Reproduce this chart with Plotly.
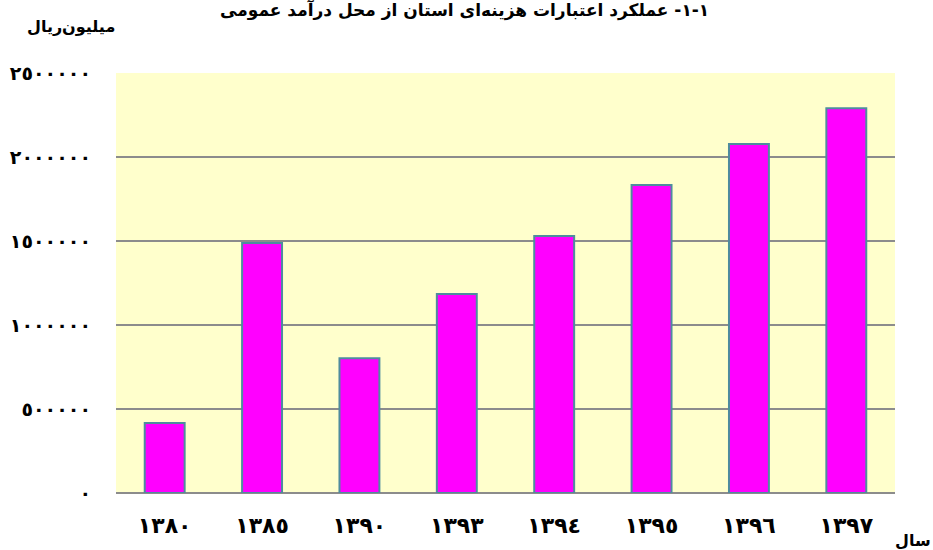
import plotly.graph_objects as go

years = ["١٣٨٠", "١٣٨٥", "١٣٩٠", "١٣٩٣", "١٣٩٤", "١٣٩٥", "١٣٩٦", "١٣٩٧"]
values = [416700, 1488000, 801600, 1184500, 1529800, 1833300, 2077400, 2289900]
tick_vals = [0, 500000, 1000000, 1500000, 2000000, 2500000]
tick_text = ["٠", "٥٠٠٠٠٠", "١٠٠٠٠٠٠", "١٥٠٠٠٠٠", "٢٠٠٠٠٠٠", "٢٥٠٠٠٠٠"]
title_text = "١-١- عملکرد اعتبارات هزینه‌ای استان از محل درآمد عمومی"
y_unit = "میلیون‌ریال"
x_unit = "سال"

FONT = "DejaVu Sans"

fig = go.Figure(go.Bar(
    x=years, y=values,
    marker=dict(color="#FF00FF", line=dict(color="#4E8C9E", width=2)),
))

fig.update_layout(
    width=933, height=550,
    margin=dict(l=116, r=38, t=73, b=57),
    paper_bgcolor="white", plot_bgcolor="#FFFFCC",
    bargap=0.59, showlegend=False,
    font=dict(family=FONT, color="black"),
    xaxis=dict(type="category", showgrid=False, zeroline=False, showline=False,
               automargin=False,
               ticks="", tickfont=dict(size=22, family=FONT, weight="bold"),
               ticklabelstandoff=17),
    yaxis=dict(range=[0, 2500000], tickvals=tick_vals, ticktext=tick_text,
               automargin=False,
               showgrid=True, gridcolor="#8C8C8C", gridwidth=2,
               zeroline=True, zerolinecolor="#8C8C8C", zerolinewidth=2,
               showline=False, ticks="", ticklabelstandoff=24,
               tickfont=dict(size=19, family=FONT, weight="bold")),
    annotations=[
        dict(text=title_text, xref="paper", yref="paper", x=0.447, y=1.15,
             xanchor="center", yanchor="middle", showarrow=False,
             font=dict(size=17, family=FONT, weight="bold")),
        dict(text=y_unit, xref="paper", yref="paper", x=-0.117, y=1.11,
             xanchor="left", yanchor="middle", showarrow=False,
             font=dict(size=16, family=FONT, weight="bold")),
        dict(text=x_unit, xref="paper", yref="paper", x=0.997, y=-0.112,
             xanchor="left", yanchor="middle", showarrow=False,
             font=dict(size=16, family=FONT, weight="bold")),
    ],
)

fig.write_html(
    "out.html",
    config={"displayModeBar": False},
    post_script="document.body.style.margin='0';document.body.style.overflow='hidden';",
)
